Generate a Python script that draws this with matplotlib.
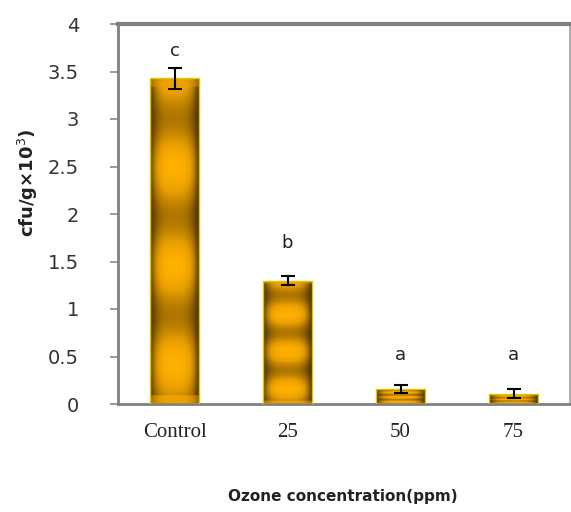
import numpy as np
import matplotlib
matplotlib.use("Agg")
import matplotlib.pyplot as plt
from matplotlib.colors import LinearSegmentedColormap

categories = ["Control", "25", "50", "75"]
values = [3.43, 1.30, 0.16, 0.11]
errors = [0.11, 0.05, 0.04, 0.05]
letters = ["c", "b", "a", "a"]
letter_heights = [3.72, 1.70, 0.52, 0.52]
yticks = [0, 0.5, 1, 1.5, 2, 2.5, 3, 3.5, 4]
ytick_labels = ["0", "0.5", "1", "1.5", "2", "2.5", "3", "3.5", "4"]

fig = plt.figure(figsize=(5.71, 5.12), dpi=100)
ax = fig.add_axes([118 / 571, 1 - 404 / 512, 452 / 571, 380 / 512])

x = np.arange(len(categories))
bars = ax.bar(x, values, width=0.43, facecolor="none", edgecolor="#e0c800",
              linewidth=1.0, zorder=3)

cmap = LinearSegmentedColormap.from_list(
    "gold", ["#3a2600", "#6e4a00", "#b07800", "#e89e00", "#ffb000"])

for b in bars:
    ny, nx = 300, 80
    yy = np.linspace(0, 1, ny)[:, None]
    xx = np.linspace(-1, 1, nx)[None, :]
    vband = 0.5 + 0.5 * np.cos(2 * np.pi * 3.3 * (yy - 0.12))
    hprof = 1 - np.abs(xx) ** 3
    val = (0.5 + 0.5 * vband) * (0.15 + 0.85 * hprof)
    edge = np.minimum(yy, 1 - yy)
    val = np.where(edge < 0.025, 0.8 * (0.5 + 0.5 * hprof), val)
    im = ax.imshow(val, cmap=cmap, vmin=0, vmax=1, origin="lower",
                   extent=(b.get_x(), b.get_x() + b.get_width(), 0, b.get_height()),
                   aspect="auto", zorder=2, interpolation="bilinear")
    im.set_clip_path(b)

ax.errorbar(x, values, yerr=errors, fmt="none", ecolor="black", elinewidth=1.5,
            capsize=5, capthick=1.5, zorder=4)

for xi, lt, lh in zip(x, letters, letter_heights):
    ax.text(xi, lh, lt, ha="center", va="center", fontsize=13,
            family="DejaVu Sans", color="#222222")

ax.set_xlim(-0.5, 3.5)
ax.set_ylim(0, 4)
ax.set_yticks(yticks)
ax.set_yticklabels(ytick_labels, fontsize=14, family="DejaVu Sans", color="#333333")
ax.set_xticks(x)
ax.set_xticklabels(categories, fontsize=15, family="Liberation Serif", color="#222222")
ax.tick_params(axis="x", length=0, pad=14)
ax.tick_params(axis="y", length=6, width=1.2, color="#888888", direction="out", pad=22)

for side in ["left", "bottom"]:
    ax.spines[side].set_color("#808080")
    ax.spines[side].set_linewidth(2)
ax.spines["top"].set_color("#808080")
ax.spines["top"].set_linewidth(3)
ax.spines["right"].set_color("#a0a0a0")
ax.spines["right"].set_linewidth(1.2)

fig.text(28 / 571, 1 - 183 / 512, "cfu/g×10$^{3}$)", rotation=90, ha="center",
         va="center", fontsize=13, fontweight="bold", family="DejaVu Sans",
         color="#222222")
fig.text(343 / 571, 1 - 497 / 512, "Ozone concentration(ppm)", ha="center", va="center",
         fontsize=11, fontweight="bold", family="DejaVu Sans", color="#222222")

fig.savefig("out.png", dpi=100)
